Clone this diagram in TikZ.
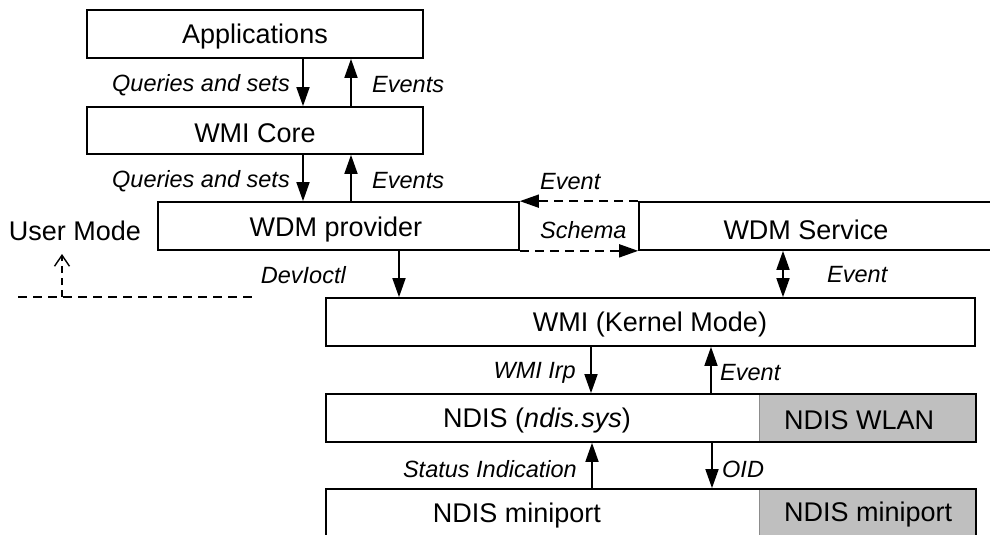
\documentclass[tikz,border=0pt]{standalone}
\usepackage{fontspec}
\setmainfont{Liberation Sans}
\usetikzlibrary{arrows.meta}
\tikzset{
  x=1pt, y=-1pt,
  box/.style={draw=black, line width=1.7pt, rectangle, inner sep=0pt, font=\fontsize{27}{32}\selectfont},
  greybox/.style={fill=black!25, draw=black!45, line width=0.8pt, rectangle, inner sep=0pt},
  boxtext/.style={inner sep=0pt, font=\fontsize{27}{32}\selectfont},
  lbl/.style={inner sep=0pt, font=\fontsize{23.5}{28}\selectfont\itshape},
  tip/.style={Triangle[length=19pt,width=13pt]},
  arr/.style={line width=1.7pt, -{Triangle[length=19pt,width=13pt]}},
  dblarr/.style={line width=1.7pt, {Triangle[length=19pt,width=13pt]}-{Triangle[length=19pt,width=13pt]}},
  dasharr/.style={line width=1.7pt, dash pattern=on 9pt off 6pt, -{Triangle[length=19pt,width=13pt]}},
}
\begin{document}
\begin{tikzpicture}
\useasboundingbox (0,0) rectangle (990,535);
\clip (0,0) rectangle (990,535);
% boxes
\node[box, minimum width=336pt, minimum height=48pt] (app) at (255,34) {};
\node[boxtext] (appt) at (255,37) {Applications};
\node[box, minimum width=336pt, minimum height=47pt] (core) at (255,130.5) {};
\node[boxtext] (coret) at (255,133) {WMI Core};
\node[box, minimum width=361pt, minimum height=48pt] (wdmp) at (338.5,226) {};
\node[boxtext] (wdmpt) at (336,230) {WDM provider};
\node[box, minimum width=380pt, minimum height=48pt] (wdms) at (829,226) {};
\node[boxtext] (wdmst) at (806,230) {WDM Service};
\node[box, minimum width=649pt, minimum height=48pt] (wmi) at (650.5,322) {};
\node[boxtext] (wmit) at (650,325) {WMI (Kernel Mode)};
\node[greybox, minimum width=217pt, minimum height=48pt] (wlan) at (867.5,418) {};
\node[box, minimum width=650pt, minimum height=48pt] (ndis) at (651,418) {};
\node[boxtext] (ndist) at (537,421) {NDIS (\textit{ndis.sys})};
\node[boxtext, anchor=west] (wlant) at (784,420) {NDIS WLAN};
\node[greybox, minimum width=217pt, minimum height=80pt] (minig) at (867.5,529) {};
\node[box, minimum width=650pt, minimum height=80pt] (mini) at (651,529) {};
\node[boxtext] (minit) at (517,516) {NDIS miniport};
\node[boxtext, anchor=west] (minigt) at (784,515) {NDIS miniport};
% user mode
\node[boxtext] (um) at (75,231) {User Mode};
\coordinate (uml) at (18,297);
\coordinate (umr) at (255,297);
\coordinate (umb) at (62,297);
\coordinate (umt) at (62,254);
\draw[line width=1.4pt, dash pattern=on 9pt off 6pt] (uml) -- (umr);
\draw[line width=1.4pt, dash pattern=on 7pt off 5pt, -{Straight Barb[length=11pt,width=15pt,line width=1.4pt]}] (umb) -- (umt);
% arrows top
\draw[arr] (303,0 |- app.south) -- (303,0 |- core.north);
\draw[arr] (351,0 |- core.north) -- (351,0 |- app.south);
\node[lbl, anchor=east] (l1) at (290,85) {Queries and sets};
\node[lbl, anchor=west] (l2) at (372,85) {Events};
\draw[arr] (303,0 |- core.south) -- (303,0 |- wdmp.north);
\draw[arr] (351,0 |- wdmp.north) -- (351,0 |- core.south);
\node[lbl, anchor=east] (l3) at (290,181) {Queries and sets};
\node[lbl, anchor=west] (l4) at (372,181) {Events};
% dashed between providers
\draw[dasharr] (wdms.north west) -- (wdmp.north east);
\draw[dasharr] (wdmp.south east) -- (wdms.south west);
\node[lbl, anchor=west] (l5) at (540,182) {Event};
\node[lbl, anchor=west] (l6) at (540,230) {Schema};
% to WMI kernel
\draw[arr] (399,0 |- wdmp.south) -- (399,0 |- wmi.north);
\node[lbl, anchor=east] (l7) at (346,275) {DevIoctl};
\draw[dblarr] (783,0 |- wdms.south) -- (783,0 |- wmi.north);
\node[lbl, anchor=west] (l8) at (827,275) {Event};
% WMI to NDIS
\draw[arr] (591,0 |- wmi.south) -- (591,0 |- ndis.north);
\draw[arr] (711,0 |- ndis.north) -- (711,0 |- wmi.south);
\node[lbl, anchor=east] (l9) at (576,373) {WMI Irp};
\node[lbl, anchor=west] (l10) at (720,373) {Event};
% NDIS to miniport
\draw[arr] (592,0 |- mini.north) -- (592,0 |- ndis.south);
\draw[arr] (712,0 |- ndis.south) -- (712,0 |- mini.north);
\node[lbl, anchor=east] (l11) at (577,469) {Status Indication};
\node[lbl, anchor=west] (l12) at (722,469) {OID};
\end{tikzpicture}
\end{document}
